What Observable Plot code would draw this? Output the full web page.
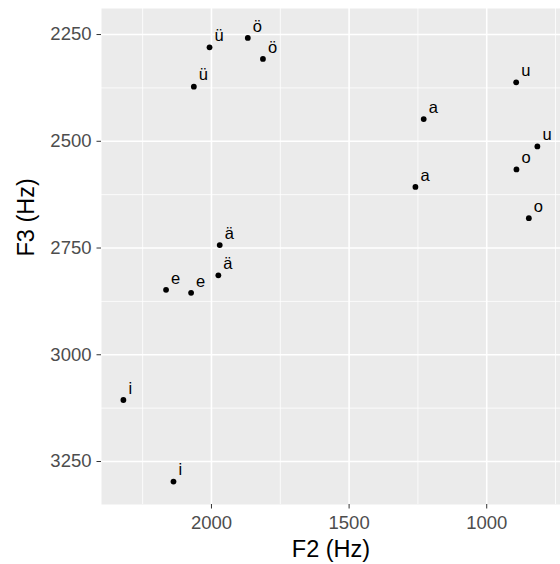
<!DOCTYPE html>
<html>
<head>
<meta charset="utf-8">
<script src="https://cdn.jsdelivr.net/npm/d3@7"></script>
<script src="https://cdn.jsdelivr.net/npm/@observablehq/plot@0.6"></script>
<style>
  html, body { margin: 0; padding: 0; background: #fff; }
  svg { display: block; }
</style>
</head>
<body>
<div id="chart"></div>
<script>
const vowels = ["ü","ü","ö","ö","ä","ä","e","e","i","i","u","u","a","a","o","o"];
const f2 = [2007, 2064, 1868, 1813, 1970, 1975, 2165, 2074, 2320, 2138, 893, 816, 1229, 1259, 892, 847];
const f3 = [2280, 2372, 2258, 2307, 2743, 2814, 2848, 2855, 3106, 3297, 2362, 2512, 2448, 2607, 2566, 2680];

const xMajor = [2000, 1500, 1000];
const xMinor = [2250, 1750, 1250, 750];
const yMajor = [2250, 2500, 2750, 3000, 3250];
const yMinor = [2375, 2625, 2875, 3125];

const data = vowels.map((v, i) => ({vowel: v, F2: f2[i], F3: f3[i]}));

const font = "Liberation Sans, Arial, Helvetica, sans-serif";

const chart = Plot.plot({
  width: 560,
  height: 564,
  marginLeft: 101,
  marginTop: 8,
  marginRight: 0,
  marginBottom: 60,
  style: {fontFamily: font, background: "#fff"},
  x: {domain: [2399.5, 732]},
  y: {domain: [3350.7, 2189]},
  marks: [
    Plot.frame({fill: "#EBEBEB", stroke: null}),
    Plot.ruleX(xMinor, {stroke: "#fff", strokeWidth: 0.8}),
    Plot.ruleY(yMinor, {stroke: "#fff", strokeWidth: 0.8}),
    Plot.ruleX(xMajor, {stroke: "#fff", strokeWidth: 1.6}),
    Plot.ruleY(yMajor, {stroke: "#fff", strokeWidth: 1.6}),
    Plot.axisX(xMajor, {tickSize: 4.5, tickPadding: 6.5, fontSize: 18.5, color: "#4D4D4D", stroke: "#333333", label: null, tickFormat: d => String(d)}),
    Plot.axisY(yMajor, {tickSize: 4.5, tickPadding: 5.5, fontSize: 18.5, color: "#4D4D4D", stroke: "#333333", label: null, tickFormat: d => String(d)}),
    Plot.text(["F2 (Hz)"], {frameAnchor: "bottom", lineAnchor: "bottom", dy: 52, fontSize: 23.5, fill: "#000"}),
    Plot.text(["F3 (Hz)"], {frameAnchor: "left", rotate: -90, dx: -75, fontSize: 23.5, fill: "#000"}),
    Plot.dot(data, {x: "F2", y: "F3", r: 2.9, fill: "#000", stroke: null}),
    Plot.text(data, {x: "F2", y: "F3", text: "vowel", textAnchor: "start", dx: 5, dy: -11.6, fontSize: 16.5, fill: "#000"})
  ]
});

document.getElementById("chart").appendChild(chart);
</script>
</body>
</html>
